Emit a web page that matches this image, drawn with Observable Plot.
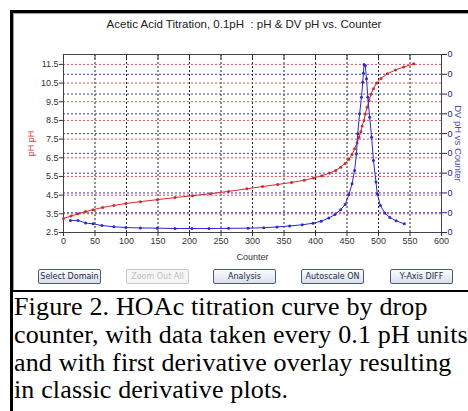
<!DOCTYPE html>
<html><head><meta charset="utf-8">
<script src="https://cdn.jsdelivr.net/npm/d3@7"></script>
<script src="https://cdn.jsdelivr.net/npm/@observablehq/plot@0.6"></script>
<style>
body{margin:0;background:#fff;}
#wrap{position:relative;width:468px;height:411px;overflow:hidden;background:#fff;font-family:"Liberation Sans",Arial,sans-serif;}
#wrap .blk{position:absolute;background:#000;}
#win{position:absolute;left:13px;top:13px;width:470px;height:276px;border-left:1px solid #a0a0a0;border-top:1px solid #a0a0a0;border-bottom:1px solid #a0a0a0;background:#fff;}
#chart{position:absolute;left:0;top:0;}
#title{position:absolute;left:0;width:488px;top:18px;text-align:center;font-size:11.5px;color:#222;}
.btn{position:absolute;top:269px;width:61px;height:13px;border:1px solid #4a5a78;border-radius:2px;background:linear-gradient(#fbfcfe,#d9dfea);font-size:8px;line-height:13px;text-align:center;color:#1a2a48;font-family:Tahoma,"DejaVu Sans",sans-serif;}
.btn.dis{border-color:#c8c8c8;color:#c0c0c0;background:#f6f6f4;}
#caption{position:absolute;left:14px;top:293px;font-family:"Liberation Serif","Times New Roman",serif;font-size:26px;line-height:27.8px;color:#000;white-space:nowrap;letter-spacing:0.15px;}
</style></head><body>
<div id="wrap">
  <div id="win"></div>
  <div id="chart"></div>
  <div id="title"></div>
  <div id="buttons"></div>
  <div id="caption"></div>
  <div class="blk" style="left:10px;top:10px;width:3px;height:401px;"></div>
  <div class="blk" style="left:10px;top:10px;width:458px;height:3px;"></div>
  <div class="blk" style="left:10px;top:290px;width:458px;height:2px;"></div>
</div>
<script>
const titleText = "Acetic Acid Titration, 0.1pH\u00a0\u00a0: pH & DV pH vs. Counter";
const xLabel = "Counter";
const leftLabel = "pH pH";
const rightLabel = "DV pH vs Counter";
const xTicks = [0,50,100,150,200,250,300,350,400,450,500,550,600];
const phTicks = [2.5,3.5,4.5,5.5,6.5,7.5,8.5,9.5,10.5,11.5];
const dvTicks = [0,1,2,3,4,5,6,7,8,9];
const dvTickLabels = ["0","0","0","0","0","0","0","0","0","0"];
const buttonLabels = ["Select Domain","Zoom Out All","Analysis","Autoscale ON","Y-Axis DIFF"];
const buttonLeft = [38,126,213,301,390];
const captionLines = [
  "Figure 2. HOAc titration curve by drop",
  "counter, with data taken every 0.1 pH units",
  "and with first derivative overlay resulting",
  "in classic derivative plots."
];

// pH curve (red)
const phCounter = [0,12,23,35,47,62,80,99,122,149,177,205,233,262,291,316,340,362,382,397,410,422,432,440,447,453,458,462,466,469,472,474,477,479,482,485,488,492,497,504,514,527,540,556];
const phValues  = [3.25,3.38,3.50,3.62,3.72,3.84,3.95,4.05,4.15,4.26,4.37,4.47,4.58,4.70,4.84,4.96,5.07,5.18,5.30,5.42,5.54,5.68,5.82,6.0,6.2,6.42,6.68,6.98,7.3,7.6,7.9,8.2,8.5,8.85,9.2,9.55,9.9,10.2,10.5,10.75,11.0,11.2,11.36,11.53];

// first derivative (blue), in right-axis units
const dvCounter = [11,23,35,47,61,80,99,122,149,177,204,231,262,293,318,339,359,379,396,409,421,431,440,447,453,458,462,465,467,470,473,475,476,477,479,481,483,486,489,492,496,498,503,510,518,528,541];
const dvValues  = [0.61,0.61,0.48,0.44,0.35,0.29,0.25,0.23,0.22,0.20,0.20,0.20,0.21,0.22,0.24,0.28,0.33,0.39,0.47,0.57,0.73,0.91,1.15,1.42,1.92,2.46,3.13,3.98,4.99,6.0,6.84,7.6,8.05,8.49,8.44,7.77,6.84,5.83,4.82,3.64,2.55,1.96,1.37,0.98,0.76,0.59,0.44];

const phDomain = [2.5, 12.03];
const dvDomain = [0, 9];
const dvToPh = v => phDomain[0] + (v - dvDomain[0]) / (dvDomain[1] - dvDomain[0]) * (phDomain[1] - phDomain[0]);

const phData = phCounter.map((c, i) => ({c, v: phValues[i]}));
const dvData = dvCounter.map((c, i) => ({c, v: dvToPh(dvValues[i])}));

const RED = "#d42a2a", BLUE = "#2a2ad0";

const chart = Plot.plot({
  width: 468, height: 290,
  marginLeft: 63, marginRight: 27, marginTop: 54, marginBottom: 58,
  style: {fontSize: "9px", fontFamily: "'Liberation Sans', Arial, sans-serif", color: "#333", background: "transparent", overflow: "visible"},
  x: {domain: [0, 600]},
  y: {domain: phDomain},
  marks: [
    Plot.ruleX(xTicks.filter(t => t > 0 && t < 600), {stroke: "#222", strokeDasharray: "2,2", strokeWidth: 1}),
    Plot.ruleY(phTicks.filter(t => t > 2.5), {stroke: "#e85050", strokeDasharray: "2,2", strokeWidth: 1}),
    Plot.ruleY(dvTicks.slice(1, -1).map(dvToPh), {stroke: "#3a3ac8", strokeDasharray: "2,2", strokeWidth: 1}),
    Plot.frame({stroke: "#444"}),
    Plot.axisX({ticks: xTicks, tickSize: 4, tickPadding: 1, label: xLabel, labelAnchor: "center", labelArrow: "none", labelOffset: 27, fontSize: 9}),
    Plot.axisX({anchor: "top", ticks: xTicks, tickSize: -4, tickFormat: () => "", label: null}),
    Plot.axisY({ticks: phTicks, tickSize: 4, tickPadding: 1, tickFormat: d3.format(".1f"), label: null}),
    Plot.axisY({anchor: "right", ticks: dvTicks.map(dvToPh), tickSize: 5, tickPadding: 1, stroke: "#222266", fill: "#222266",
      tickFormat: d => dvTickLabels[dvTicks.findIndex(t => Math.abs(dvToPh(t) - d) < 1e-9)], label: null}),
    Plot.text([leftLabel], {frameAnchor: "left", dx: -32, rotate: -90, textAnchor: "middle", fill: "#d04848", fontSize: 9}),
    Plot.text([rightLabel], {frameAnchor: "right", dx: 17, rotate: 90, textAnchor: "middle", fill: "#4a4ab8", fontSize: 9.5}),
    Plot.line(phData, {x: "c", y: "v", stroke: RED, strokeWidth: 1}),
    Plot.dot(phData, {x: "c", y: "v", r: 1.5, fill: RED}),
    Plot.line(dvData, {x: "c", y: "v", stroke: BLUE, strokeWidth: 1}),
    Plot.dot(dvData, {x: "c", y: "v", r: 1.5, fill: BLUE})
  ]
});
document.getElementById("chart").appendChild(chart);
document.getElementById("title").textContent = titleText;
const bwrap = document.getElementById("buttons");
buttonLabels.forEach((b, i) => {
  const d = document.createElement("div");
  d.className = "btn" + (i === 1 ? " dis" : "");
  d.style.left = buttonLeft[i] + "px";
  d.textContent = b;
  bwrap.appendChild(d);
});
document.getElementById("caption").innerHTML = captionLines.map(l => l.replace(/&/g,"&amp;")).join("<br>");
</script>
</body></html>
